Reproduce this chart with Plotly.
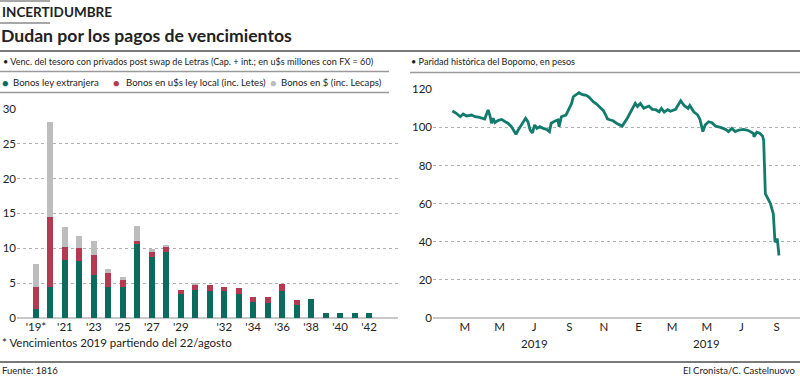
import plotly.graph_objects as go

# ---------------- data ----------------
years = ["'19*", "'20", "'21", "'22", "'23", "'24", "'25", "'26", "'27", "'28", "'29", "'30",
         "'31", "'32", "'33", "'34", "'35", "'36", "'37", "'38", "'39", "'40", "'41", "'42"]
year_ticks = ["'19*", "'21", "'23", "'25", "'27", "'29", "'32", "'34", "'36", "'38", "'40", "'42"]
ley_extranjera = [1.3, 4.4, 8.3, 8.2, 6.2, 4.4, 4.4, 10.6, 8.7, 9.5, 3.5, 4.0,
                  3.9, 3.9, 3.5, 2.3, 2.2, 3.9, 1.9, 2.7, 0.7, 0.7, 0.7, 0.7]
ley_local = [3.1, 10.1, 1.9, 1.9, 2.85, 2.1, 1.1, 0.45, 0.85, 0.8, 0.6, 0.8,
             0.85, 0.6, 0.85, 0.7, 0.85, 0.95, 0.75, 0.0, 0.0, 0.0, 0.0, 0.0]
en_pesos = [3.35, 13.7, 2.9, 1.7, 2.05, 0.5, 0.45, 2.15, 0.35, 0.05, 0.0, 0.1,
            0.0, 0.0, 0.0, 0.0, 0.0, 0.0, 0.0, 0.0, 0.0, 0.0, 0.0, 0.0]

bop_dates = ["2018-02-07", "2018-02-14", "2018-02-21", "2018-02-26", "2018-03-04", "2018-03-13",
             "2018-03-19", "2018-03-27", "2018-04-05", "2018-04-11", "2018-04-14", "2018-04-17",
             "2018-04-20", "2018-04-23", "2018-04-29", "2018-05-05", "2018-05-11", "2018-05-16",
             "2018-05-22", "2018-05-26", "2018-05-30", "2018-06-03", "2018-06-08", "2018-06-16",
             "2018-06-20", "2018-06-24", "2018-06-28", "2018-07-02", "2018-07-06", "2018-07-11",
             "2018-07-17", "2018-07-23", "2018-07-28", "2018-07-31", "2018-08-06", "2018-08-12",
             "2018-08-14", "2018-08-18", "2018-08-26", "2018-08-30", "2018-09-05", "2018-09-08",
             "2018-09-14", "2018-09-18", "2018-09-24", "2018-10-01", "2018-10-06", "2018-10-13",
             "2018-10-19", "2018-10-25", "2018-10-31", "2018-11-04", "2018-11-07", "2018-11-11",
             "2018-11-17", "2018-11-23", "2018-12-03", "2018-12-12", "2018-12-20", "2018-12-26",
             "2018-12-30", "2019-01-04", "2019-01-10", "2019-01-19", "2019-01-25", "2019-01-31",
             "2019-02-06", "2019-02-10", "2019-02-15", "2019-02-21", "2019-02-26", "2019-03-07",
             "2019-03-16", "2019-03-22", "2019-03-29", "2019-04-01", "2019-04-08", "2019-04-15",
             "2019-04-19", "2019-04-24", "2019-04-28", "2019-05-04", "2019-05-10", "2019-05-16",
             "2019-05-25", "2019-06-03", "2019-06-08", "2019-06-14", "2019-06-20", "2019-06-26",
             "2019-07-05", "2019-07-13", "2019-07-22", "2019-07-23", "2019-07-28", "2019-08-02",
             "2019-08-07", "2019-08-09", "2019-08-12", "2019-08-21", "2019-08-26", "2019-08-29",
             "2019-09-02", "2019-09-05"]
bop_values = [108.6, 107.4, 105.6, 107.0, 106.0, 106.5,
              105.6, 105.3, 104.4, 109.1, 106.5, 102.2,
              104.8, 102.5, 103.7, 104.2, 103.0, 102.2,
              100.4, 98.3, 96.4, 98.6, 101.3, 104.8,
              103.0, 98.6, 97.2, 101.3, 99.5, 100.4,
              99.5, 99.0, 97.8, 102.2, 103.2, 103.9,
              100.4, 105.6, 106.5, 109.1, 112.6, 116.1,
              117.5, 118.2, 117.2, 116.8, 115.8, 113.5,
              112.3, 110.5, 108.8, 106.5, 104.5, 104.0,
              103.5, 102.2, 100.7, 104.8, 109.1, 112.6,
              111.0, 112.6, 110.0, 111.2, 109.5, 109.3,
              108.2, 110.0, 108.0, 109.3, 108.5, 109.5,
              114.0, 111.5, 110.0, 111.5, 108.2, 106.5,
              104.2, 97.8, 101.3, 103.0, 102.5, 100.7,
              100.0, 99.0, 97.8, 99.5, 97.8, 98.6,
              99.0, 98.4, 96.9, 95.1, 97.5, 96.9,
              95.5, 93.3, 65.3, 60.0, 54.7, 39.8,
              41.6, 32.8]

month_ticks = ["2018-03-01", "2018-05-01", "2018-07-01", "2018-09-01", "2018-11-01",
               "2019-01-01", "2019-03-01", "2019-05-01", "2019-07-01", "2019-09-01"]
month_labels = ["M", "M", "J", "S", "N", "E", "M", "M", "J", "S"]
year_label_pos = ["2018-07-01", "2019-05-01"]
year_labels = ["2019", "2019"]

legend_names = ["Bonos ley extranjera", "Bonos en u$s ley local (inc. Letes)", "Bonos en $ (inc. Lecaps)"]

GREEN = "#0b6b5f"
RED = "#b33a50"
GREY = "#bdbdbd"
LINE = "#137b6c"
TXT = "#222222"
GRID = "#b0b0b0"
FONT = "Lato"

W, H = 800, 376
def px(x):
    return x / W
def py(y):
    return 1 - y / H

fig = go.Figure()
for name, vals, col in zip(legend_names, [ley_extranjera, ley_local, en_pesos], [GREEN, RED, GREY]):
    fig.add_trace(go.Bar(x=years, y=vals, name=name, marker=dict(color=col, line=dict(width=0)),
                         width=0.42, xaxis="x", yaxis="y", showlegend=False))

fig.add_trace(go.Scatter(x=bop_dates, y=bop_values, mode="lines",
                         line=dict(color=LINE, width=2.8), xaxis="x2", yaxis="y2",
                         showlegend=False))

y_dom = [py(318), py(108.9)]
y2_dom = [py(318), py(89.3)]

fig.update_layout(
    width=W, height=H, margin=dict(l=0, r=0, t=0, b=0, pad=0, autoexpand=False), autosize=False,
    paper_bgcolor="white", plot_bgcolor="white", showlegend=False,
    barmode="stack", bargap=0,
    font=dict(family=FONT, color=TXT, size=11),
    xaxis=dict(domain=[px(17), px(398)], type="category", range=[-1.31, 25.0],
               tickmode="array", tickvals=year_ticks, ticktext=year_ticks,
               showgrid=False, ticks="", zeroline=False, showline=False, automargin=False,
               tickfont=dict(size=11.5, color=TXT)),
    yaxis=dict(domain=y_dom, range=[0, 30], tickvals=[0, 5, 10, 15, 20, 25, 30],
               showgrid=True, gridcolor=GRID, griddash="dot", gridwidth=1,
               zeroline=True, zerolinecolor="#c8c8c8", zerolinewidth=2, automargin=False,
               ticks="", showline=False, tickfont=dict(size=11.5, color=TXT)),
    xaxis2=dict(domain=[px(433), 1.0], anchor="y2", type="date",
                range=["2018-01-04", "2019-10-12"],
                tickmode="array", tickvals=month_ticks, ticktext=month_labels,
                showgrid=False, ticks="", zeroline=False, showline=False, automargin=False,
                tickfont=dict(size=11.5, color=TXT)),
    yaxis2=dict(domain=y2_dom, anchor="x2", range=[0, 120], tickvals=[0, 20, 40, 60, 80, 100, 120],
                showgrid=True, gridcolor=GRID, griddash="dot", gridwidth=1,
                zeroline=True, zerolinecolor="#c8c8c8", zerolinewidth=2, automargin=False,
                ticks="", showline=False, tickfont=dict(size=11.5, color=TXT)),
)

shapes = [
    dict(type="line", xref="paper", yref="paper", x0=0, x1=px(50), y0=py(1), y1=py(1),
         line=dict(color="#8a8a8a", width=1.5)),
    dict(type="line", xref="paper", yref="paper", x0=0, x1=px(50), y0=py(23), y1=py(23),
         line=dict(color="#8a8a8a", width=1.5)),
    dict(type="line", xref="paper", yref="paper", x0=0, x1=1, y0=py(51), y1=py(51),
         line=dict(color="#7a7a7a", width=2)),
    dict(type="line", xref="paper", yref="paper", x0=0, x1=px(389), y0=py(71.5), y1=py(71.5),
         line=dict(color="#9a9a9a", width=1.5)),
    dict(type="line", xref="paper", yref="paper", x0=0, x1=px(389), y0=py(92.5), y1=py(92.5),
         line=dict(color="#9a9a9a", width=1.5)),
    dict(type="line", xref="paper", yref="paper", x0=px(410), x1=1, y0=py(72.5), y1=py(72.5),
         line=dict(color="#9a9a9a", width=1.5)),
    dict(type="line", xref="paper", yref="paper", x0=0, x1=1, y0=py(362), y1=py(362),
         line=dict(color="#7a7a7a", width=2)),
]
fig.update_layout(shapes=shapes)

ann = []
def txt(x, y, s, size, bold=False, xanchor="left", color=TXT):
    ann.append(dict(xref="paper", yref="paper", x=px(x), y=py(y), text=("<b>%s</b>" % s) if bold else s,
                    showarrow=False, xanchor=xanchor, yanchor="middle",
                    font=dict(size=size, color=color, family=FONT)))

txt(0, 12.5, "INCERTIDUMBRE", 13.5, bold=True)
txt(-1, 36, "Dudan por los pagos de vencimientos", 17.6, bold=True)
txt(1, 61.5, "• Venc. del tesoro con privados post swap de Letras (Cap. + int.; en u$s millones con FX = 60)", 9.1)
txt(409, 61.5, "• Paridad histórica del Bopomo, en pesos", 9.1)
for x_dot, x_txt, name, col in zip([0, 111, 268], [11, 124, 279], legend_names, [GREEN, RED, GREY]):
    txt(x_dot, 82.5, "●", 11, color=col)
    txt(x_txt, 82.5, name, 9.6)
txt(0, 342, "* Vencimientos 2019 partiendo del 22/agosto", 11.5)
txt(0, 370, "Fuente: 1816", 9.5)
txt(797, 370, "El Cronista/C. Castelnuovo", 9.5, xanchor="right")

for d, lab in zip(year_label_pos, year_labels):
    ann.append(dict(xref="x2", yref="paper", x=d, y=py(343), text=lab, showarrow=False,
                    xanchor="center", yanchor="middle", font=dict(size=11.5, color=TXT, family=FONT)))

fig.update_layout(annotations=ann)
fig.write_html("out.html", config={"displayModeBar": False},
               post_script="document.body.style.margin='0';document.body.style.padding='0';"
                           "document.body.style.overflow='hidden';")
